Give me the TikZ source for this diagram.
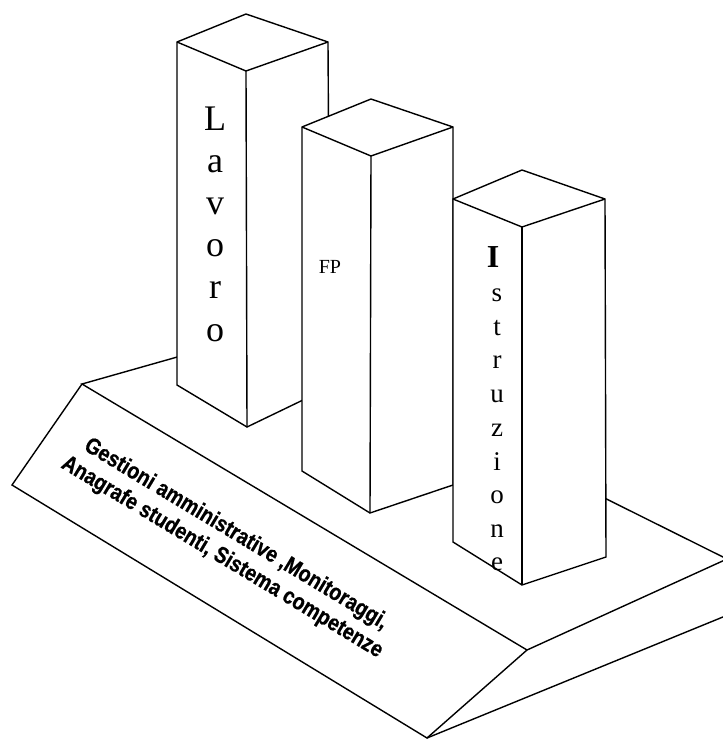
\documentclass[tikz,border=0pt]{standalone}
\usepackage{fontspec}
\setmainfont{Liberation Serif}
\newfontfamily\sansc[FakeStretch=0.85, FakeBold=0.6]{Liberation Sans}
\begin{document}
\begin{tikzpicture}[x=1pt,y=-1pt,
  edge/.style={line width=1.4pt, line join=miter},
  pillar/.style={edge, fill=white},
  lavletter/.style={anchor=base, inner sep=0pt, font=\fontsize{36}{40}\selectfont},
  istletter/.style={anchor=base, inner sep=0pt, font=\fontsize{27}{30}\selectfont}]
\useasboundingbox (0,0) rectangle (723,740);
\clip (0,0) rectangle (723,740);
% platform
\coordinate (tl) at (82,384);
\coordinate (tf) at (527,650);
\coordinate (tr) at (727,559);
\coordinate (tb) at (269,331);
\coordinate (bl) at (12,485);
\coordinate (bf) at (427,738);
\coordinate (br) at (740,610);
\draw[edge] (tl) -- (tf) -- (tr) -- (tb) -- cycle;
\draw[edge] (tl) -- (bl) -- (bf) -- (br);
\draw[edge] (bf) -- (tf);
% Lavoro pillar
\coordinate (la1) at (177,42);
\coordinate (la2) at (246,14);
\coordinate (la3) at (328,42);
\coordinate (la4) at (246,71);
\coordinate (la5) at (330,387);
\coordinate (la6) at (247,427);
\coordinate (la7) at (177,385);
\filldraw[pillar] (la1) -- (la2) -- (la3) -- (la5) -- (la6) -- (la7) -- cycle;
\draw[edge] (la1) -- (la4) -- (la3);
\draw[edge] (la4) -- (la6);
% FP pillar
\coordinate (fp1) at (302,127);
\coordinate (fp2) at (371,99);
\coordinate (fp3) at (453,127);
\coordinate (fp4) at (371,156);
\coordinate (fp5) at (453,485);
\coordinate (fp6) at (370,513);
\coordinate (fp7) at (302,471);
\filldraw[pillar] (fp1) -- (fp2) -- (fp3) -- (fp5) -- (fp6) -- (fp7) -- cycle;
\draw[edge] (fp1) -- (fp4) -- (fp3);
\draw[edge] (fp4) -- (fp6);
% Istruzione pillar
\coordinate (is1) at (453,199);
\coordinate (is2) at (522,170);
\coordinate (is3) at (605,199);
\coordinate (is4) at (522,227);
\coordinate (is5) at (606,557);
\coordinate (is6) at (522,585);
\coordinate (is7) at (453,542);
\filldraw[pillar] (is1) -- (is2) -- (is3) -- (is5) -- (is6) -- (is7) -- cycle;
\draw[edge] (is1) -- (is4) -- (is3);
\draw[edge] (is4) -- (is6);
% Lavoro text
\foreach \ch/\yy [count=\k] in {L/130, a/172, v/214, o/256, r/298, o/341}
  \node[lavletter] (lav\k) at (215,\yy) {\ch};
% FP text
\node[anchor=base, inner sep=0pt, font=\fontsize{20}{24}\selectfont] (fptext) at (330,273) {FP};
% Istruzione text
\node[anchor=base, inner sep=0pt, font=\bfseries\fontsize{32}{36}\selectfont] (ist0) at (493,267) {I};
\foreach \ch/\yy [count=\k] in {s/301, t/335, r/368, u/402, z/436, i/470, o/503, n/537, e/570}
  \node[istletter] (ist\k) at (497,\yy) {\ch};
% base text
\node[rotate=-31, inner sep=0pt, align=center, font=\sansc\bfseries\fontsize{23}{27}\selectfont] (basetext) at (229,546)
  {Gestioni amministrative ,Monitoraggi,\\Anagrafe studenti, Sistema competenze};
\end{tikzpicture}
\end{document}
